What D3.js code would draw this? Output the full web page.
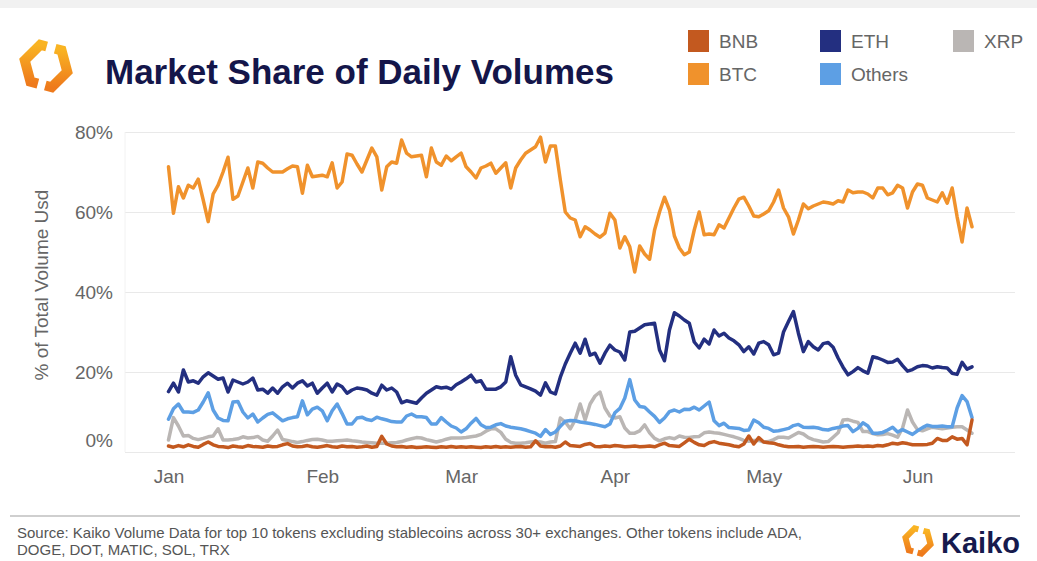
<!DOCTYPE html>
<html><head><meta charset="utf-8">
<script src="https://cdn.jsdelivr.net/npm/d3@7"></script>
<style>
html,body{margin:0;padding:0;background:#fff;}
svg{display:block;font-family:"Liberation Sans",Arial,Helvetica,sans-serif;}
</style></head><body>
<svg id="chart" width="1037" height="561"></svg>
<script>
// ---------- data ----------
const startDay = "2023-01-01";
const endDay = "2023-06-12";
const monthTicks = ["2023-01-01","2023-02-01","2023-03-01","2023-04-01","2023-05-01","2023-06-01"];
const yTicks = [0, 20, 40, 60, 80];
const legendRow1 = ["BNB", "ETH", "XRP"];
const legendRow2 = ["BTC", "Others"];

const btc = [71.3,59.7,66.3,63.5,66.7,66,68.2,63,57.6,64.5,
66.7,70,73.7,63.2,64,67.5,71,66,72.5,72.2,
71,70,70,70,70.8,71.5,71.3,64.7,71.7,68.8,
69,69.2,68.8,72.3,66,67.5,74.5,74.2,72,70,
73,76,73.8,65.5,71.3,72.5,72.2,78,74.7,73.8,
74,74.2,68.8,76,72.5,71.7,74,72.8,73.8,74.7,
71.3,70,68.5,71,71.5,72.2,69.7,71,72.3,66,
71,73,74.7,75.5,76.3,78.7,72.5,76.5,76.5,68,
60,58.5,58,53.8,56.3,55.5,54.5,53.7,54.7,59.7,
58,51,53.8,51.3,45,51.5,49.5,48.2,55.5,60,
63.7,60.5,54,51,49.3,50,55.5,60,54.3,54.5,
54.3,56.8,56,58.5,61,63.2,63.7,61.5,59,58.8,
59.5,60.3,62.5,65.5,61,58.8,54.5,58,62,60.8,
61.5,62,62.5,62.3,62,62.8,62.5,65.5,64.8,65,
65,64.5,63.5,66,66,64.3,64.8,66.7,66,61,
65,67,66.7,63.5,63,62.5,64.8,62.2,66,58.8,
52.5,61,56.3];

const eth = [15.1,17.2,15,20.5,17.5,17.8,17.2,18.8,19.8,19,
18.2,18.5,15,18,17.5,17,17.5,18.5,15.5,15.7,
14.7,16,14.7,16.3,17.2,16,17.2,17.8,16.5,17.2,
14.7,16,17.2,15,17,16.3,14.7,15.5,16,15.8,
15.5,14.7,14.2,16.7,15.5,16,15,12.3,12.8,12.5,
12.2,13.5,14.7,15.5,16.3,16,16.2,15.7,16.8,17.5,
18.3,19.2,17.5,17.8,15.7,15.7,15.7,16.3,17.5,23.8,
19.2,16.8,16.3,15.8,15.2,14.2,17.3,15,14.5,18.7,
22,24.7,27.2,24.7,28.2,24.2,24.7,22.2,24.7,26.7,
25.5,25,23,30,30.2,31,31.8,32,32.2,25.5,
22.8,30.5,34.8,34,33,32.2,27.5,26,28.2,27,
30.5,29,29.7,28.5,27.8,26.8,25.1,26.3,24.5,27.2,
27.6,26.8,24.3,24.7,30,32.6,35.1,29.7,25.1,27.6,
26.3,25.5,27.1,27.4,26.2,23.5,21.2,19.3,20.1,21.1,
20.3,19.7,23.8,23.5,23,22.4,22.5,23.2,21.6,20.2,
20.6,21.3,21.6,21.5,21,21.3,21.1,21,19.7,19.4,
22.4,20.7,21.3];

const others = [8.2,10.8,12,10,10,9.9,10.5,12.5,14.8,10.5,
8.5,7.9,7.8,12.5,12.6,10,8.5,9.5,7.5,8.5,
9.4,9.8,8.8,7.8,8.3,8.6,8.8,12.8,9.3,10.7,
11.2,10.3,7.8,10.3,12,9.6,7,7,8.5,8.7,
8.1,7.9,8.7,8.3,8,7.6,7.5,7.5,9,9.5,
8.8,8.8,8.6,7,7,8.6,7.5,6.5,6,5,
5.8,7.2,8.4,6.8,6.1,6.2,6.8,7.1,6.5,6.2,
6,5.8,5.5,5.1,4.7,3.9,5.6,4.4,5,6.4,
7.7,7.9,7.8,7.5,7.3,7.1,6.9,6.6,6.3,7,
9.8,10.9,13.5,18.1,13,11.4,11.2,10,8.9,7.4,
8.5,10.1,10.5,10,10.7,10.6,11.2,10.5,11.5,12.5,
7.8,6.6,7.2,6.1,6,5.9,5.4,5.5,8,7.3,
6.2,5.9,5.2,5.3,5.6,5.9,6.6,6.9,6.2,6.1,
6.2,6,5.6,5.5,5.9,6.1,6.5,6.6,5.1,5.9,
7.3,6.5,4.7,4.7,4.9,5.5,6.2,5,5.6,5,
4.4,5.3,6.1,6.7,6.4,6.4,6.5,6.3,6.3,11,
14.1,12.6,8.6];

const xrp = [3,8.6,6.5,4,4.1,3.4,3.1,3.4,3.8,4,
5.8,3,3,3.1,3.3,3.8,3.5,3.6,3.9,3,
2.7,4,5.5,3.1,2.9,2.6,2.4,2.6,2.9,3.1,
3.2,3,2.7,2.7,2.8,2.9,3,2.8,2.7,2.5,
2.4,2.3,2.2,2.2,2.2,2.3,2.4,2.6,3,3.3,
3.6,3.5,3.1,2.8,2.5,2.8,3.2,3.5,3.5,3.5,
3.6,3.8,4,4.4,5.2,5.8,5.8,4.9,3.2,2.4,
2.2,2.2,2.3,2.5,2.6,2.5,2.2,2.5,2.6,8.5,
7.5,5.8,8,12,8,12,14,15,11,9,
8.5,8.8,6,4.7,4.7,5.3,6.8,4.8,3.4,2.8,
3.3,3.6,3.3,4,3.7,3.6,3.8,3.9,4.8,5,
4.8,4.7,4.4,4.1,3.8,3.4,2.9,2.7,2.9,2.9,
2.5,2.6,3.1,3.7,3.7,3.5,4.2,4.9,4.5,3.6,
3.1,2.8,2.5,2.6,3.7,4.8,8,8.1,7.7,7.4,
5.1,5.1,4.6,4.3,4.4,4.6,4.2,3.7,6,10.5,
7.5,5.6,5.3,5.8,6.2,6,5.8,6,6.2,6.3,
6.3,5.5,4.7];

const bnb = [1.5,1.2,1.6,1.3,1.8,1.4,1.2,1.9,2.5,1.8,
1.4,1.3,1.1,1.5,1.3,1.2,1.6,1.4,1.3,1.2,
1.5,1.3,1.4,1.8,2.1,1.5,1.3,1.4,1.6,1.3,
1.2,1.4,1.6,1.3,1.2,1.5,1.3,1.4,1.2,1.3,
1.5,1.2,1.4,3.9,2,1.5,1.3,1.4,1.2,1.3,
1.1,1.2,1.3,1.2,1.1,1.3,1.2,1.4,1.2,1.3,
1.2,1.3,1.2,1.1,1.3,1.2,1.4,1.2,1.3,1.2,
1.3,1.4,1.2,1.3,2.8,1.5,1.3,1.4,1.2,1.5,
2.5,1.6,1.5,1.4,1.9,2.1,1.4,1.3,1.5,1.4,
1.6,1.5,1.3,1.4,1.5,1.3,1.4,1.5,1.3,1.8,
2.2,1.6,1.5,1.4,2.3,3.2,2.4,1.8,1.6,2.3,
2.6,2.2,2,1.8,1.5,1.3,2,4,2,3.6,
2.5,2.3,2.2,1.8,1.5,1.3,1.3,1.4,1.2,1.3,
1.4,1.3,1.2,1.3,1.4,1.3,1.2,1.3,1.4,1.5,
1.4,1.5,1.4,1.6,1.5,1.8,2.2,2,2.3,2.1,
1.8,1.8,1.8,1.9,2.2,3.4,2.9,2.9,3.8,3.2,
3.4,1.8,8];

const colors = {BNB:"#c3591f", BTC:"#f0922c", ETH:"#232f80", Others:"#5d9fe4", XRP:"#bab6b4"};
const seriesData = {BNB:bnb, BTC:btc, ETH:eth, Others:others, XRP:xrp};
const drawOrder = ["XRP","Others","BNB","ETH","BTC"];

// ---------- chart ----------
const svg = d3.select("#chart");
const parse = d3.utcParse("%Y-%m-%d");
const dates = d3.utcDay.range(parse(startDay), d3.utcDay.offset(parse(endDay), 1));

const gridLeft = 125, gridRight = 1015;
const x = d3.scaleUtc().domain([parse(startDay), parse(endDay)]).range([168.5, 972]);
const y = d3.scaleLinear().domain([0, 80]).range([452, 132]);

// top strip
svg.append("rect").attr("x",0).attr("y",0).attr("width",1037).attr("height",8).attr("fill","#f1f1f1");

// logo helper
const defs = svg.append("defs");
const grad = defs.append("linearGradient").attr("id","logoGrad").attr("x1","0").attr("y1","0").attr("x2","0").attr("y2","1");
grad.append("stop").attr("offset","0%").attr("stop-color","#f9b423");
grad.append("stop").attr("offset","100%").attr("stop-color","#ee7a1c");

function drawLogo(cx, cy, r, sw) {
  const ang = [-105,-45,15,75,135,195].map(a => a*Math.PI/180);
  const P = ang.map(a => [cx + r*Math.cos(a), cy + r*Math.sin(a)]);
  const lerp = (a,b,t) => [a[0]+(b[0]-a[0])*t, a[1]+(b[1]-a[1])*t];
  const left = [lerp(P[0],P[1],0.3), P[0], P[5], P[4], lerp(P[4],P[3],0.35)];
  const right = [lerp(P[1],P[0],0.3), P[1], P[2], P[3], lerp(P[3],P[4],0.3)];
  const g = svg.append("g");
  [left,right].forEach(pts => {
    g.append("path").attr("d", d3.line()(pts)).attr("fill","none")
      .attr("stroke","url(#logoGrad)").attr("stroke-width",sw).attr("stroke-linejoin","miter");
  });
}
drawLogo(46, 66, 22, 10);

// title
svg.append("text").attr("x",105).attr("y",84).attr("font-size",35).attr("font-weight","bold")
  .attr("fill","#14164a").text("Market Share of Daily Volumes");

// legend
const legX = [688, 820, 953];
[legendRow1, legendRow2].forEach((row, ri) => {
  row.forEach((name, ci) => {
    const lx = legX[ci], ly = 30 + ri*33;
    svg.append("rect").attr("x",lx).attr("y",ly).attr("width",21).attr("height",22).attr("fill",colors[name]);
    svg.append("text").attr("x",lx+31).attr("y",ly+18).attr("font-size",19).attr("fill","#666").text(name);
  });
});

// y axis with gridlines
const yAxis = svg.append("g").attr("transform",`translate(${gridLeft},0)`)
  .call(d3.axisLeft(y).tickValues(yTicks).tickFormat(d => d + "%").tickSize(-(gridRight-gridLeft)).tickPadding(12));
yAxis.select(".domain").remove();
yAxis.selectAll(".tick line").attr("stroke","#e9e9e9").attr("stroke-width",1.2);
yAxis.selectAll(".tick text").attr("font-size",19).attr("fill","#666").attr("font-family","Liberation Sans, Arial, sans-serif");
yAxis.selectAll(".tick text").filter(d => d === 0).attr("dy","-0.3em");

svg.append("line").attr("x1",gridLeft).attr("x2",gridLeft).attr("y1",132).attr("y2",452).attr("stroke","#f2f2f2");

// y title
svg.append("text").attr("transform","translate(48,285) rotate(-90)").attr("text-anchor","middle")
  .attr("font-size",19).attr("fill","#666").text("% of Total Volume Usd");

// x axis
const xAxis = svg.append("g").attr("transform","translate(0,452)")
  .call(d3.axisBottom(x).tickValues(monthTicks.map(parse)).tickFormat(d3.utcFormat("%b")).tickSize(0).tickPadding(18));
xAxis.select(".domain").remove();
xAxis.selectAll(".tick text").attr("font-size",19).attr("fill","#666").attr("font-family","Liberation Sans, Arial, sans-serif");

// lines
const line = d3.line().x((d,i) => x(dates[i])).y(d => y(d)).curve(d3.curveLinear);
drawOrder.forEach(name => {
  svg.append("path").datum(seriesData[name]).attr("d", line).attr("fill","none")
    .attr("stroke", colors[name]).attr("stroke-width",3.5).attr("stroke-linejoin","round").attr("stroke-linecap","round");
});

// footer
svg.append("line").attr("x1",10).attr("x2",1020).attr("y1",516).attr("y2",516).attr("stroke","#cfcfcf").attr("stroke-width",2);
svg.append("text").attr("x",17).attr("y",538).attr("font-size",15).attr("fill","#555")
  .text("Source: Kaiko Volume Data for top 10 tokens excluding stablecoins across 30+ exchanges. Other tokens include ADA,");
svg.append("text").attr("x",17).attr("y",555).attr("font-size",15).attr("fill","#555")
  .text("DOGE, DOT, MATIC, SOL, TRX");
drawLogo(918, 541, 13, 6);
svg.append("text").attr("x",941).attr("y",553).attr("font-size",29).attr("font-weight","bold")
  .attr("fill","#161a4d").text("Kaiko");
</script>
</body></html>
